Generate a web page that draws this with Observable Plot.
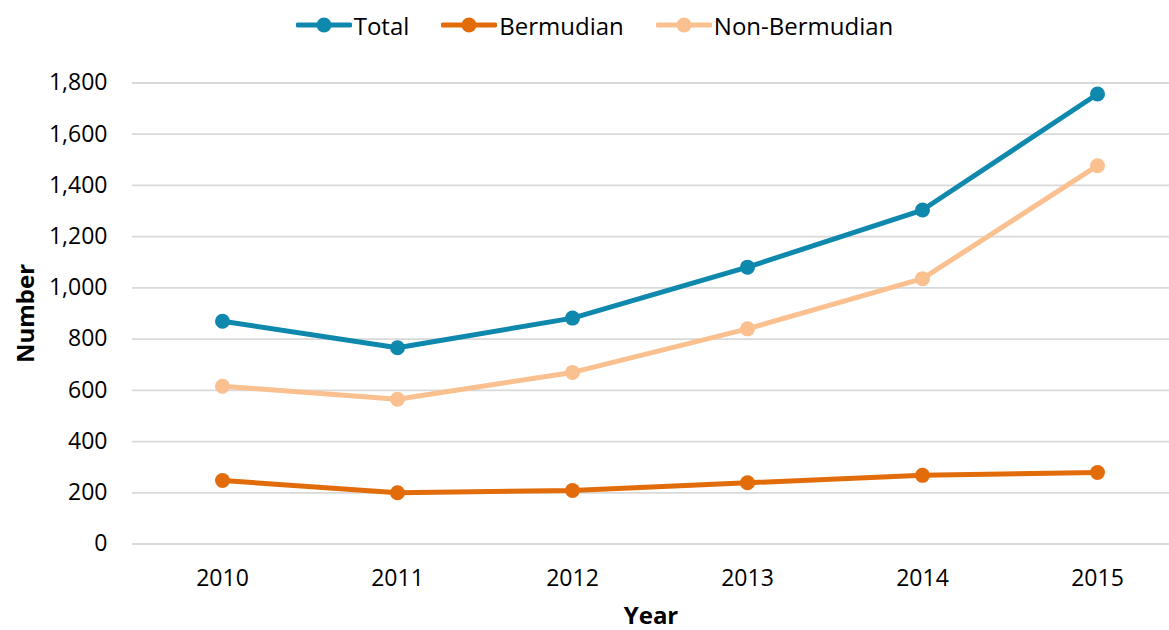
<!DOCTYPE html>
<html><head><meta charset="utf-8">
<script src="https://cdn.jsdelivr.net/npm/d3@7"></script>
<script src="https://cdn.jsdelivr.net/npm/@observablehq/plot@0.6"></script>
<style>
body{margin:0;background:#fff;font-family:"Open Sans",sans-serif;}
#legend{height:50px;display:flex;justify-content:center;align-items:center;gap:32px;font-size:24px;color:#000;padding-left:20px;box-sizing:border-box;width:1169px;}
.item{display:flex;align-items:center;gap:2px;}
</style></head>
<body>
<div id="legend"></div>
<div id="chart"></div>
<script>
const years = ["2010","2011","2012","2013","2014","2015"];
const seriesNames = ["Total","Bermudian","Non-Bermudian"];
const total = [870, 766, 882, 1081, 1304, 1757];
const bermudian = [248, 200, 209, 239, 268, 279];
const nonBermudian = [616, 565, 670, 840, 1036, 1477];
const colors = ["#0f88ad", "#e36c0a", "#fac090"];
const yTicks = [0,200,400,600,800,1000,1200,1400,1600,1800];

const valuesBySeries = [total, bermudian, nonBermudian];
const data = [];
seriesNames.forEach((s, i) => years.forEach((y, j) => data.push({series: s, year: y, value: valuesBySeries[i][j]})));

const legend = document.getElementById("legend");
seriesNames.forEach((s, i) => {
  const it = document.createElement("div");
  it.className = "item";
  it.innerHTML = `<svg width="56" height="20"><line x1="2" y1="10" x2="54" y2="10" stroke="${colors[i]}" stroke-width="5" stroke-linecap="round"/><circle cx="28" cy="10" r="7.5" fill="${colors[i]}"/></svg><span>${s}</span>`;
  legend.appendChild(it);
});

const chart = Plot.plot({
  width: 1169,
  height: 580,
  marginLeft: 132,
  marginRight: 0,
  marginTop: 32.5,
  marginBottom: 86.5,
  style: {fontFamily: "'Open Sans', sans-serif", fontSize: "23px", color: "#000", background: "#fff"},
  x: {type: "point", domain: years, range: [220, 1098], padding: 0, label: null},
  y: {domain: [0, 1800], label: null},
  color: {domain: seriesNames, range: colors},
  marks: [
    Plot.ruleY(yTicks, {stroke: "#d9d9d9", strokeWidth: 1.8}),
    Plot.axisY({ticks: yTicks, tickSize: 0, tickPadding: 25, tickFormat: d3.format(","), label: "Number", labelAnchor: "center", labelOffset: 116, labelArrow: "none", fontSize: 23}),
    Plot.axisX({tickSize: 0, tickPadding: 26, label: "Year", labelAnchor: "center", labelOffset: 80, labelArrow: "none", fontSize: 23}),
    Plot.line(data, {x: "year", y: "value", z: "series", stroke: "series", strokeWidth: 5}),
    Plot.dot(data, {x: "year", y: "value", fill: "series", r: 7.5})
  ]
});
chart.querySelectorAll('[aria-label="y-axis label"] text, [aria-label="x-axis label"] text').forEach(t => {t.style.fontWeight = "bold"; t.style.fontSize = "24px";});
document.getElementById("chart").appendChild(chart);
</script>
</body></html>
